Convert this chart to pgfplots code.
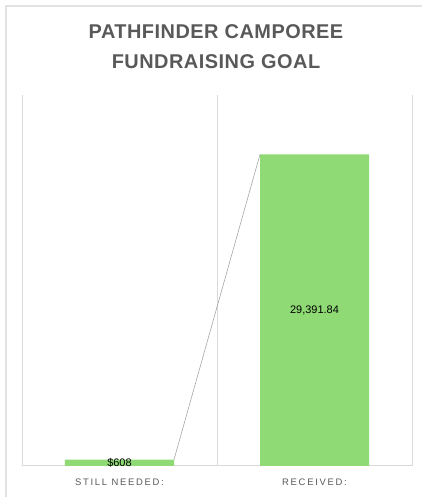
\documentclass[border=0pt]{standalone}
\usepackage{fontspec}
\setmainfont{Liberation Sans}
\newfontfamily\titlefont[LetterSpace=2.5]{Liberation Sans}
\newfontfamily\catfont[LetterSpace=18]{Liberation Sans}
\usepackage{pgfplots}
\pgfplotsset{compat=1.18}
\definecolor{barg}{HTML}{8FDA74}
\definecolor{gridg}{HTML}{D9D9D9}
\definecolor{titleg}{HTML}{595959}
\definecolor{catg}{HTML}{595959}
\definecolor{frameg}{HTML}{E3E3E3}
\begin{document}
\begin{tikzpicture}[x=1bp,y=1bp]
\useasboundingbox (0,0) rectangle (422,497);
\draw[frameg, line width=2bp] (6,0) -- (6,491) -- (422,491);
\node[text=titleg, font=\titlefont\bfseries\fontsize{20}{30}\selectfont, align=center] at (216,450) {PATHFINDER CAMPOREE\\FUNDRAISING GOAL};
\begin{axis}[
  at={(22bp,31bp)}, anchor=south west,
  scale only axis, width=390bp, height=371bp,
  xmin=-0.5, xmax=1.5, ymin=0, ymax=35000,
  scaled y ticks=false,
  axis line style={draw=none},
  xtick={0,1}, xticklabels={STILL NEEDED:, RECEIVED:},
  minor xtick={-0.5,0.5,1.5}, xminorgrids,
  minor grid style={gridg, line width=1bp},
  ytick={0}, yticklabels={}, ymajorgrids,
  major grid style={gridg, line width=1bp},
  major tick length=0, minor tick length=0,
  xticklabel style={font=\catfont\fontsize{9.5}{11}\selectfont, text=catg, yshift=-9bp},
  clip=false,
]
\addplot[ybar, bar width=0.559, fill=barg, draw=none] coordinates {(0,608) (1,29391.84)};
\addplot[gray!70, line width=0.6bp, mark=none] coordinates {(0.2795,608) (0.7205,29391.84)};
\addplot[draw=none, mark=none, nodes near coords, point meta=explicit symbolic,
  every node near coord/.append style={anchor=center, font=\fontsize{11}{13}\selectfont, text=black}]
  coordinates {(0,304) [\$608] (1,14695.92) [29,391.84]};
\end{axis}
\end{tikzpicture}
\end{document}
